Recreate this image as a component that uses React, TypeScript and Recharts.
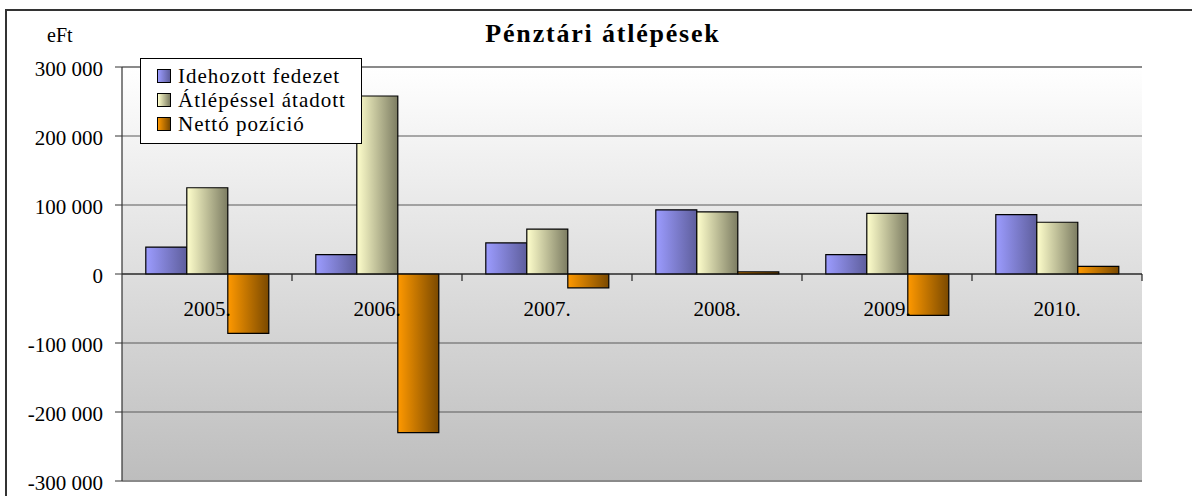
import React from 'react';
import { BarChart, Bar, XAxis, YAxis, CartesianGrid, ReferenceLine, Legend } from 'recharts';

const years = ['2005.', '2006.', '2007.', '2008.', '2009.', '2010.'];
const idehozott = [39000, 28000, 45000, 93000, 28000, 86000];
const atlepessel = [125000, 258000, 65000, 90000, 88000, 75000];
const netto = [-86000, -230000, -20000, 3000, -60000, 11000];
const seriesNames = ['Idehozott fedezet', 'Átlépéssel átadott', 'Nettó pozíció'];
const yTicks = [-300000, -200000, -100000, 0, 100000, 200000, 300000];
const chartTitle = 'Pénztári átlépések';
const unitLabel = 'eFt';

const data = years.map((year, i) => ({ year, a: idehozott[i], b: atlepessel[i], c: netto[i] }));

const FONT = "'Liberation Serif', 'Times New Roman', serif";
const W = 1192;
const H = 496;
const M_TOP = 67;
const M_RIGHT = 50;
const Y_W = 122;
const X_H = 15;
const PLOT_W = W - Y_W - M_RIGHT;
const PLOT_H = H - M_TOP - X_H;
const Y_MIN = yTicks[0];
const Y_MAX = yTicks[yTicks.length - 1];
const ZERO_Y = M_TOP + (PLOT_H * Y_MAX) / (Y_MAX - Y_MIN);
const BAND = PLOT_W / years.length;

const gradIds = ['gA', 'gB', 'gC'];
const gradStops = [
  ['#9c9cff', '#5e5e9c'],
  ['#ffffcc', '#7c7c62'],
  ['#ff9900', '#7a4900'],
];

const fmt = (v: number) => {
  const s = Math.abs(v).toString().replace(/\B(?=(\d{3})+(?!\d))/g, ' ');
  return (v < 0 ? '-' : '') + s;
};

const YTick = (props: any) => {
  const { x, y, payload } = props;
  return (
    <text x={x} y={y + 9} textAnchor="end" fontFamily={FONT} fontSize={21} fill="#000">
      {fmt(payload.value)}
    </text>
  );
};

const XTick = (props: any) => {
  const { x, payload } = props;
  return (
    <g>
      <line x1={x + BAND / 2} x2={x + BAND / 2} y1={ZERO_Y} y2={ZERO_Y + 7} stroke="#222" strokeWidth={1.2} />
      <text x={x} y={ZERO_Y + 42} textAnchor="middle" fontFamily={FONT} fontSize={21} fill="#000">
        {payload.value}
      </text>
    </g>
  );
};

const renderLegend = () => (
  <div
    style={{
      width: 222,
      height: 86,
      boxSizing: 'border-box',
      background: '#fff',
      border: '1px solid #000',
      paddingTop: 5,
      paddingLeft: 16,
      fontFamily: FONT,
      fontSize: 21,
      letterSpacing: 1,
      color: '#000',
    }}
  >
    {seriesNames.map((n, i) => (
      <div key={n} style={{ display: 'flex', alignItems: 'center', height: 24, lineHeight: '24px', whiteSpace: 'nowrap' }}>
        <span
          style={{
            display: 'inline-block',
            width: 12,
            height: 12,
            border: '1px solid #000',
            background: `linear-gradient(to right, ${gradStops[i][0]}, ${gradStops[i][1]})`,
            marginRight: 7,
            flexShrink: 0,
          }}
        />
        {n}
      </div>
    ))}
  </div>
);

export default function App() {
  return (
    <div style={{ position: 'absolute', left: 0, top: 0, width: W, height: H, overflow: 'hidden', background: '#fff' }}>
      <svg width={0} height={0} style={{ position: 'absolute' }}>
        <defs>
          <linearGradient id="bgGrad" x1="0" y1="0" x2="0" y2="1">
            <stop offset="0%" stopColor="#ffffff" />
            <stop offset="100%" stopColor="#bdbdbd" />
          </linearGradient>
          {gradIds.map((id, i) => (
            <linearGradient key={id} id={id} x1="0" y1="0" x2="1" y2="0">
              <stop offset="0%" stopColor={gradStops[i][0]} />
              <stop offset="100%" stopColor={gradStops[i][1]} />
            </linearGradient>
          ))}
        </defs>
      </svg>
      <div style={{ position: 'absolute', left: 5, top: 9, width: 1400, height: 700, border: '2px solid #333' }} />
      <div
        style={{
          position: 'absolute',
          left: 303,
          top: 21,
          width: 600,
          textAlign: 'center',
          fontFamily: FONT,
          fontWeight: 'bold',
          fontSize: 26,
          lineHeight: '26px',
          letterSpacing: 1.8,
          color: '#000',
        }}
      >
        {chartTitle}
      </div>
      <div
        style={{
          position: 'absolute',
          left: 47,
          top: 25,
          fontFamily: FONT,
          fontSize: 20,
          lineHeight: '20px',
          color: '#000',
        }}
      >
        {unitLabel}
      </div>
      <div style={{ position: 'absolute', left: 0, top: 0 }}>
        <BarChart
          width={W}
          height={H}
          data={data}
          margin={{ top: M_TOP, right: M_RIGHT, left: 0, bottom: 0 }}
          barCategoryGap="14%"
          barGap={0}
        >
          <CartesianGrid vertical={false} stroke="#5a5a5a" strokeWidth={1.2} fill="url(#bgGrad)" />
          <XAxis
            dataKey="year"
            height={X_H}
            interval={0}
            axisLine={{ stroke: '#8a8a8a', strokeWidth: 2 }}
            tickLine={false}
            tick={<XTick />}
          />
          <YAxis
            width={Y_W}
            domain={[Y_MIN, Y_MAX]}
            ticks={yTicks}
            interval={0}
            tickSize={7}
            tickMargin={12}
            tickLine={{ stroke: '#333' }}
            axisLine={{ stroke: '#333', strokeWidth: 1.2 }}
            tick={<YTick />}
          />
          <YAxis
            yAxisId="right"
            orientation="right"
            width={0}
            tick={false}
            tickLine={false}
            axisLine={{ stroke: '#8a8a8a', strokeWidth: 2 }}
          />
          <ReferenceLine y={Y_MAX} stroke="#8a8a8a" strokeWidth={2} />
          <ReferenceLine y={0} stroke="#111" strokeWidth={1.2} />
          <Legend
            layout="vertical"
            align="center"
            verticalAlign="middle"
            content={renderLegend}
            wrapperStyle={{ position: 'absolute', left: 140, top: 58, width: 222, height: 86 }}
          />
          {gradIds.map((id, i) => (
            <Bar
              key={id}
              dataKey={['a', 'b', 'c'][i]}
              name={seriesNames[i]}
              fill={`url(#${id})`}
              stroke="#000"
              strokeWidth={1.2}
              isAnimationActive={false}
            />
          ))}
        </BarChart>
      </div>
    </div>
  );
}
